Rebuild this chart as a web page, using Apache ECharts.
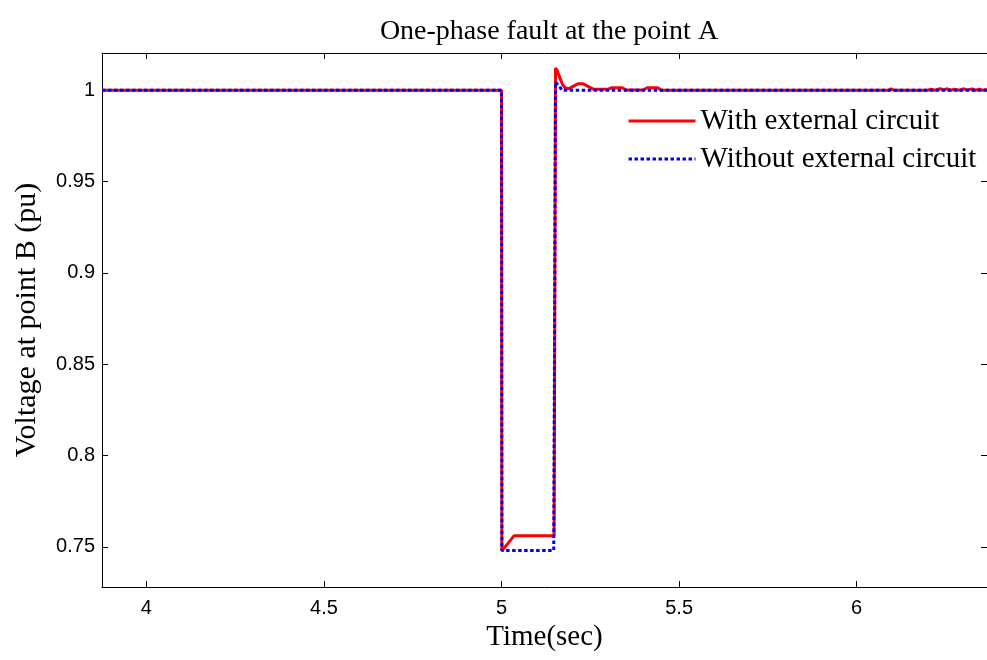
<!DOCTYPE html>
<html>
<head>
<meta charset="utf-8">
<script src="https://cdn.jsdelivr.net/npm/echarts@6/dist/echarts.min.js"></script>
<style>html,body{margin:0;padding:0;background:#fff}#c{width:987px;height:660px}</style>
</head>
<body>
<div id="c"></div>
<script>
var xTicks = [4, 4.5, 5, 5.5, 6];
var yTicks = [0.75, 0.8, 0.85, 0.9, 0.95, 1];
var seriesNames = ['With external circuit', 'Without external circuit'];
var withCircuit = [
  [3.875,1],[5.0,1],[5.001,0.7478],[5.035,0.756],[5.148,0.756],[5.152,1.0122],[5.156,1.011],
  [5.16,1.009],[5.165,1.0065],[5.172,1.003],[5.18,1.0012],[5.19,1.0008],[5.2,1.002],[5.215,1.0035],
  [5.23,1.0035],[5.245,1.002],[5.26,1.0005],[5.3,1.0005],[5.31,1.0014],[5.34,1.0014],[5.35,1.0002],
  [5.4,1.0002],[5.41,1.0014],[5.44,1.0014],[5.45,1.0],[6.09,1.0],[6.097,1.0008],[6.105,1.0],
  [6.125,1.0],[6.13,1.0008],[6.137,1.0],[6.16,1.0],[6.165,1.0005],[6.17,1.0],[6.2,1.0],[6.21,1.0006],
  [6.22,1.0],[6.235,1.0008],[6.245,1.0002],[6.255,1.0008],[6.265,1.0],[6.275,1.0006],[6.29,1.0],
  [6.3,1.0008],[6.31,1.0002],[6.325,1.0007],[6.335,1.0],[6.345,1.0006],[6.355,1.0],[6.367,1.0005]
];
var withoutCircuit = [
  [3.875,1],[5.0,1],[5.001,0.748],[5.147,0.748],[5.152,1.0044],[5.156,1.004],[5.162,1.0025],
  [5.17,1.0],[6.367,1.0]
];

var serif = 'Liberation Serif, Times New Roman, serif';
var sans = 'Liberation Sans, Arial, sans-serif';
var chart = echarts.init(document.getElementById('c'));
var tickStyle = {show: true, inside: true, length: 6, lineStyle: {color: '#000', width: 1}};
chart.setOption({
  animation: false,
  backgroundColor: '#fff',
  title: {
    text: 'One-phase fault at the point A', left: 544, top: 13, textAlign: 'center',
    textStyle: {fontFamily: serif, fontSize: 28, fontWeight: 'normal', color: '#000'}
  },
  legend: {
    orient: 'vertical', left: 622, top: 101, itemWidth: 67, itemHeight: 14, itemGap: 8,
    data: seriesNames,
    itemStyle: {opacity: 0},
    lineStyle: {width: 3},
    textStyle: {fontFamily: serif, fontSize: 29, color: '#000', lineHeight: 30}
  },
  grid: {left: 102, right: -2, top: 53, bottom: 73, containLabel: false},
  xAxis: [{
    type: 'value', min: 3.875, max: 6.367, position: 'bottom',
    name: 'Time(sec)', nameLocation: 'middle', nameGap: 30,
    nameTextStyle: {fontFamily: serif, fontSize: 29, color: '#000'},
    axisLine: {show: true, onZero: false, lineStyle: {color: '#000', width: 1}},
    axisTick: Object.assign({customValues: xTicks}, tickStyle),
    axisLabel: {customValues: xTicks, margin: 11, fontFamily: sans, fontSize: 20, color: '#000',
      formatter: function (v) { return String(v); }},
    splitLine: {show: false}
  }, {
    type: 'value', min: 3.875, max: 6.367, position: 'top',
    axisLine: {show: true, onZero: false, lineStyle: {color: '#000', width: 1}},
    axisTick: Object.assign({customValues: xTicks}, tickStyle),
    axisLabel: {show: false}, splitLine: {show: false}
  }],
  yAxis: [{
    type: 'value', min: 0.728, max: 1.0204, position: 'left',
    name: 'Voltage at point B (pu)', nameLocation: 'middle', nameGap: 60,
    nameTextStyle: {fontFamily: serif, fontSize: 30, color: '#000'},
    axisLine: {show: true, onZero: false, lineStyle: {color: '#000', width: 1}},
    axisTick: Object.assign({customValues: yTicks}, tickStyle),
    axisLabel: {customValues: yTicks, margin: 7, fontFamily: sans, fontSize: 20, color: '#000',
      formatter: function (v) { return String(v); }},
    splitLine: {show: false}
  }, {
    type: 'value', min: 0.728, max: 1.0204, position: 'right',
    axisLine: {show: true, onZero: false, lineStyle: {color: '#000', width: 1}},
    axisTick: Object.assign({customValues: yTicks}, tickStyle),
    axisLabel: {show: false}, splitLine: {show: false}
  }],
  series: [{
    name: seriesNames[0], type: 'line', data: withCircuit, showSymbol: false, symbol: 'none',
    xAxisIndex: 0, yAxisIndex: 0, z: 2,
    color: '#ff0000',
    lineStyle: {color: '#ff0000', width: 3}
  }, {
    name: seriesNames[1], type: 'line', data: withoutCircuit, showSymbol: false, symbol: 'none',
    xAxisIndex: 0, yAxisIndex: 0, z: 3,
    color: '#0000ff',
    lineStyle: {color: '#0000ff', width: 3, type: [3.5, 2.5]}
  }]
});
</script>
</body>
</html>
